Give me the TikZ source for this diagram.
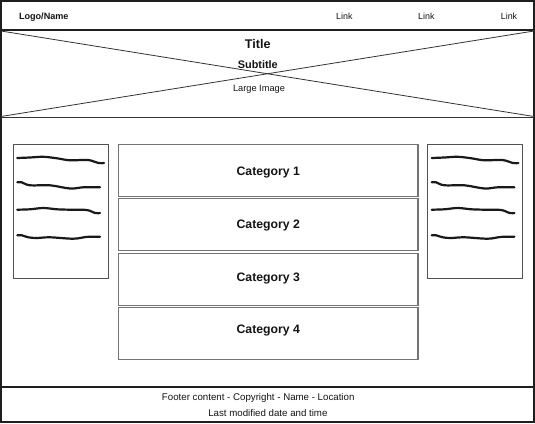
\documentclass[tikz,border=0pt]{standalone}
\usepackage{fontspec}
\setmainfont{Liberation Sans}
\begin{document}
\begin{tikzpicture}[x=1pt,y=-1pt,
  frameline/.style={draw=black!88, line width=2pt},
  thinline/.style={draw=black!80, line width=0.9pt},
  catbox/.style={draw=black!55, line width=1.1pt, minimum width=299.5pt, minimum height=52pt, inner sep=0pt},
  sidebox/.style={draw=black!68, line width=1pt, minimum width=95pt, minimum height=134.3pt, inner sep=0pt},
  wave/.style={line width=2.2pt, black!90, line cap=round},
  txt/.style={inner sep=0pt, anchor=base, text=black!92},
  bold/.style={txt, font=\bfseries\fontsize{#1}{#1}\selectfont},
  reg/.style={txt, font=\fontsize{#1}{#1}\selectfont}
]
\useasboundingbox (0,0) rectangle (535,423);
\fill[white] (0,0) rectangle (535,423);

% regions
\node[frameline, minimum width=533pt, minimum height=421pt, inner sep=0pt] (frame) at (267.5,211.5) {};
\coordinate (hL) at (0,30); \coordinate (hR) at (535,30);
\coordinate (iL) at (1,117); \coordinate (iR) at (534,117);
\coordinate (fL) at (0,386.5); \coordinate (fR) at (535,386.5);
\coordinate (xa) at (1,31); \coordinate (xb) at (534,116.5);
\coordinate (xc) at (1,116.5); \coordinate (xd) at (534,31);
\draw[frameline] (hL) -- (hR);
\draw[thinline] (iL) -- (iR);
\draw[frameline] (fL) -- (fR);
\draw[thinline, line width=0.8pt] (xa) -- (xb);
\draw[thinline, line width=0.8pt] (xc) -- (xd);

% header
\node[bold=9.1, anchor=base west] (logo) at (18.8,19.7) {Logo/Name};
\node[reg=8.9] (link1) at (344.4,19.6) {Link};
\node[reg=8.9] (link2) at (426.3,19.6) {Link};
\node[reg=8.9] (link3) at (509,19.6) {Link};

% image
\node[bold=12.6] (title) at (257.7,48.2) {Title};
\node[bold=10.9] (subtitle) at (257.8,68.6) {Subtitle};
\node[reg=9.25] (large) at (259,91.2) {Large Image};

% side panels
\node[sidebox] (left) at (60.8,211.2) {};
\node[sidebox] (right) at (475,211.2) {};

\begin{scope}
\draw[wave] plot[smooth, tension=0.6] coordinates {(17.3,158) (30,157.5) (43.3,156.8) (57,158.3) (70,160.3) (88,160) (98.3,163) (104,163)};
\draw[wave] plot[smooth, tension=0.6] coordinates {(17.3,182.3) (21.7,182.3) (30,185.3) (50,185.3) (70,188.5) (83.3,187.3) (100,187.3)};
\draw[wave] plot[smooth, tension=0.6] coordinates {(17.3,209.7) (30,209.3) (43.3,208) (57,209.3) (70,209.7) (86.7,210) (95,213) (100,213)};
\draw[wave] plot[smooth, tension=0.6] coordinates {(17.3,235.3) (21.7,235.3) (28.3,237.3) (36.7,238) (50,237.3) (73.3,238.7) (86.7,236.9) (100,236.7)};
\end{scope}
\begin{scope}[xshift=414.4pt]
\draw[wave] plot[smooth, tension=0.6] coordinates {(17.3,158) (30,157.5) (43.3,156.8) (57,158.3) (70,160.3) (88,160) (98.3,163) (104,163)};
\draw[wave] plot[smooth, tension=0.6] coordinates {(17.3,182.3) (21.7,182.3) (30,185.3) (50,185.3) (70,188.5) (83.3,187.3) (100,187.3)};
\draw[wave] plot[smooth, tension=0.6] coordinates {(17.3,209.7) (30,209.3) (43.3,208) (57,209.3) (70,209.7) (86.7,210) (95,213) (100,213)};
\draw[wave] plot[smooth, tension=0.6] coordinates {(17.3,235.3) (21.7,235.3) (28.3,237.3) (36.7,238) (50,237.3) (73.3,238.7) (86.7,236.9) (100,236.7)};
\end{scope}

% categories
\node[catbox] (c1) at (268.25,170.5) {};
\node[catbox] (c2) at (268.25,224.5) {};
\node[catbox] (c3) at (268.25,279.2) {};
\node[catbox] (c4) at (268.25,333.1) {};
\node[bold=12.25] (t1) at (268.3,175.4) {Category 1};
\node[bold=12.25] (t2) at (268.3,228.7) {Category 2};
\node[bold=12.25] (t3) at (268.3,281.1) {Category 3};
\node[bold=12.25] (t4) at (268.3,333.4) {Category 4};

% footer
\node[reg=9.7] (f1) at (258.2,400.8) {Footer content - Copyright - Name - Location};
\node[reg=9.7] (f2) at (267.9,416.8) {Last modified date and time};
\end{tikzpicture}
\end{document}
